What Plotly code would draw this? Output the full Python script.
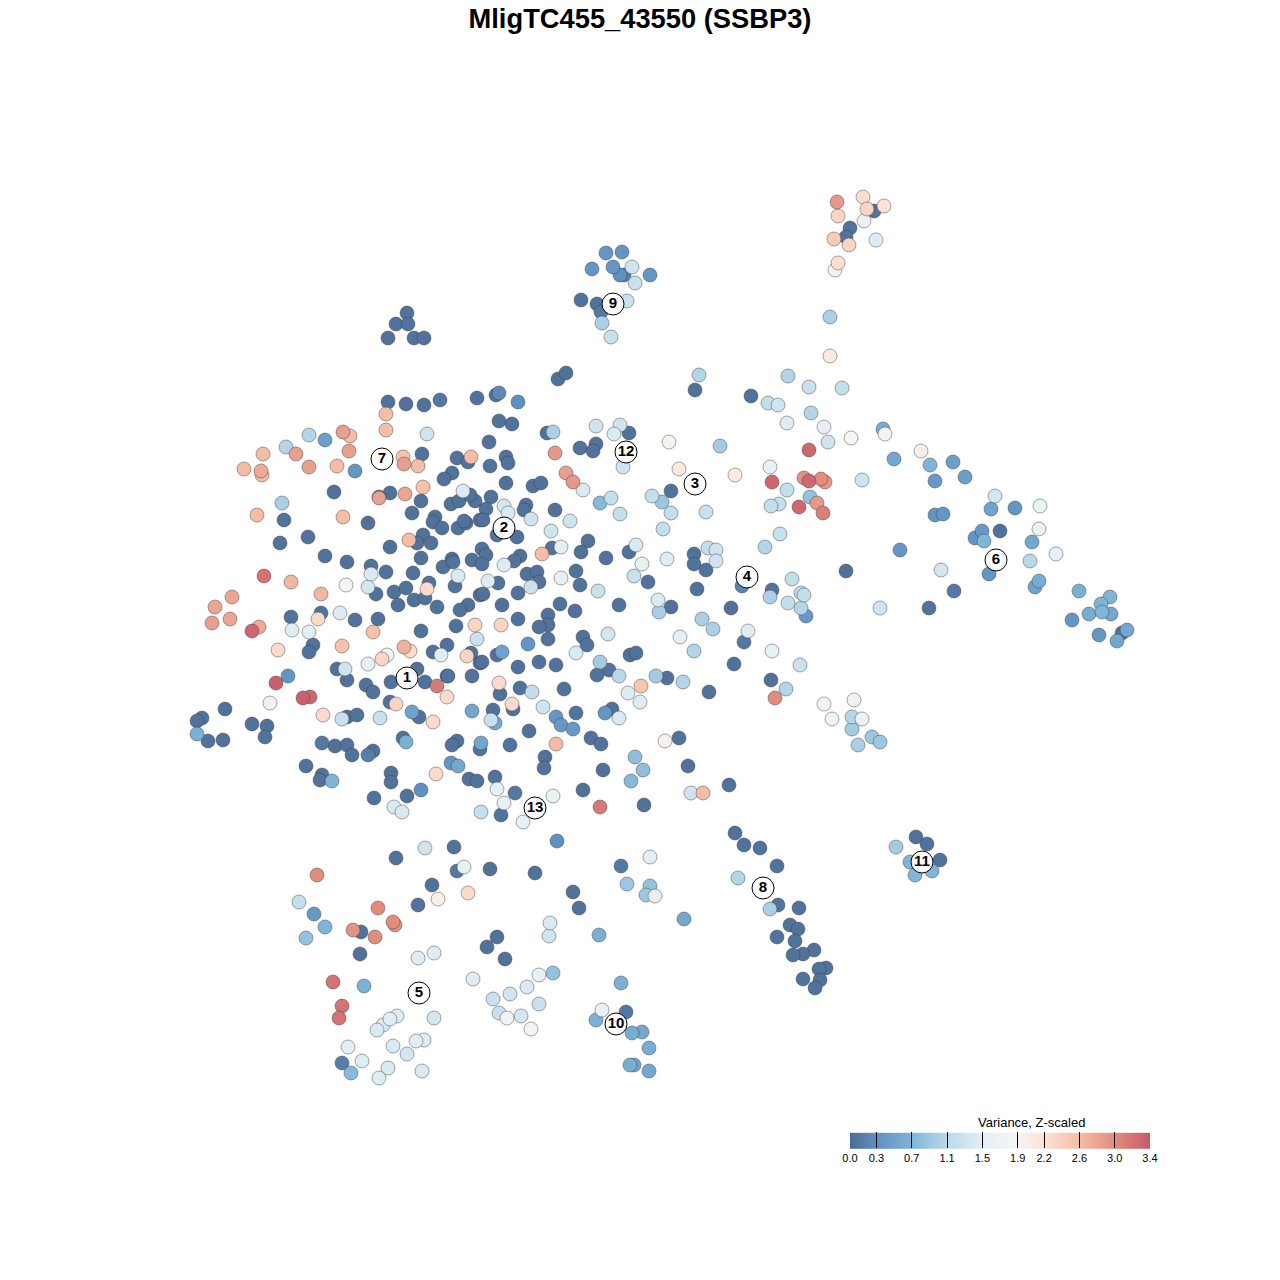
import plotly.graph_objects as go

D = 0.05
# (x, y, variance), region by region
upper_left = [
 (388,402,D),(406,404,D),(424,405,D),(440,400,.1),(477,398,D),(422,454,D),(457,458,D),(468,462,D),(452,473,D),(444,479,D),
 (334,492,D),(390,493,D),(379,497,D),(421,501,D),(451,504,D),(459,501,D),(475,501,D),(470,495,D),(412,513,D),(435,517,D),
 (433,522,D),(442,528,D),(458,528,D),(466,523,D),(464,521,D),(480,520,D),(284,520,D),(368,523,D),(280,543,D),(308,537,D),
 (423,535,D),(417,543,D),(431,543,D),(390,547,D),(325,556,D),(347,562,D),(371,566,D),(386,572,D),(421,558,D),(452,559,D),
 (443,567,D),(472,560,D),(453,562,D),(413,573,D),(429,583,D),(455,586,D),(376,594,D),(394,592,D),(406,588,D),(398,605,D),
 (414,600,D),(425,598,D),(437,607,D),(468,605,D),(460,610,D),(480,595,D),(321,613,D),(291,617,D),(355,620,D),(378,619,D),
 (421,631,D),(456,626,D),(313,645,D),(309,652,D),(447,645,D),(433,652,D),(471,653,D),(337,669,D),(417,669,D),(480,663,D),
 (309,435,1.05),(286,447,1.05),(427,434,1.3),(282,503,1.0),(325,440,.45),(355,471,.35),
 (386,414,2.6),(386,430,2.6),(343,432,2.85),(350,436,2.6),(349,451,2.85),(296,454,2.85),(263,454,2.6),(244,469,2.6),
 (261,471,2.75),(262,475,2.6),(309,467,2.85),(337,466,2.6),(403,457,2.55),(404,464,2.85),(418,466,2.6),(471,457,2.6),
 (379,498,2.85),(405,494,2.8),(423,487,2.55),(257,515,2.6),(343,517,2.6),(409,540,2.6),
 (463,491,1.4),(371,574,1.4),(458,576,1.4),(368,587,1.35),(346,585,1.85),(427,589,2.3),(264,576,3.2),(291,582,2.65),
 (321,594,2.65),(232,597,2.8),(215,607,2.8),(212,623,2.85),(230,619,2.8),(259,627,2.75),(252,631,3.3),(318,619,2.3),
 (340,613,1.45),(292,630,1.45),(309,632,1.5),(373,632,2.55),(278,650,2.3),(342,646,2.55),(404,647,2.7),(410,651,2.3),
 (382,659,2.35),(387,655,1.75),(368,664,1.55),(441,655,1.45),(467,656,2.35),(475,625,2.35),(477,639,1.25),(345,669,1.3),
]
upper_center = [
 (496,395,D),(499,393,.25),(518,402,.3),(558,379,D),(566,373,D),(499,421,D),(512,424,D),(547,433,D),(553,432,1.0),(489,442,D),
 (506,457,D),(508,463,D),(490,466,D),(506,483,D),(533,486,D),(541,483,D),(491,497,D),(486,509,D),(526,505,D),(524,510,D),
 (555,510,D),(483,520,D),(497,535,D),(517,537,D),(588,541,D),(581,552,D),(552,548,D),(561,547,1.5),(542,554,2.6),(606,558,D),
 (629,552,D),(636,545,1.4),(482,549,D),(486,555,D),(482,564,D),(520,556,D),(514,561,D),(504,565,1.45),(527,574,D),(537,572,D),
 (539,582,D),(531,587,1.25),(561,578,1.55),(576,571,D),(580,585,D),(598,591,1.25),(488,581,1.45),(498,583,D),(483,594,D),(518,593,D),
 (502,605,D),(560,604,D),(575,611,D),(619,605,D),(518,619,D),(548,615,D),(548,625,D),(539,627,D),(501,625,2.35),(528,644,.35),
 (548,639,D),(583,637,D),(587,645,D),(608,634,1.35),(576,653,1.4),(630,655,D),(636,653,D),(482,662,D),(497,655,D),(502,652,.5),
 (518,667,D),(539,662,D),(556,665,D),(600,662,.95),(609,670,D),(597,675,D),(619,676,1.1),(656,676,.95),(667,678,D),(683,682,1.05),
 (596,426,1.3),(620,425,1.3),(614,434,1.4),(629,433,D),(580,448,D),(596,444,D),(593,451,D),(555,453,2.9),(566,473,2.85),(573,482,2.9),
 (583,490,1.4),(623,467,1.3),(669,442,1.95),(679,469,2.1),(735,475,2.05),(720,446,.95),(671,491,D),(652,496,1.2),(662,502,.9),
 (671,513,1.2),(706,512,1.25),(663,529,1.2),(600,503,.75),(611,498,1.2),(620,514,1.2),(570,521,1.3),(551,531,1.3),(531,519,1.3),
 (504,506,1.35),(508,513,1.4),(642,564,1.6),(667,559,1.45),(634,576,1.25),(648,582,D),(694,554,D),(694,564,D),(706,570,D),
 (708,548,1.2),(716,550,1.3),(716,561,1.3),(697,589,D),(658,600,1.4),(659,612,1.0),(671,607,D),(731,608,D),(702,619,1.0),
 (713,629,1.0),(680,637,1.5),(694,651,1.05),(734,664,D),(742,586,.2),
]
lower_left = [
 (347,680,D),(366,685,D),(373,692,D),(391,682,D),(425,682,D),(437,686,3.15),(447,676,D),(447,697,2.3),(288,676,.35),(276,683,3.35),
 (310,697,3.3),(303,698,3.35),(270,703,1.7),(323,715,2.3),(347,717,D),(342,719,1.25),(357,715,D),(380,718,1.25),(390,702,D),
 (396,704,2.35),(412,712,.5),(419,717,D),(433,722,2.3),(225,709,D),(202,718,D),(197,721,D),(197,734,.65),(208,741,D),(223,740,D),
 (252,724,D),(267,726,D),(265,737,D),(322,743,.1),(335,746,D),(347,745,D),(352,755,D),(373,751,D),(368,755,.15),(403,738,D),
 (406,742,.65),(306,766,D),(322,775,D),(320,780,D),(332,781,.7),(391,773,D),(391,782,D),(421,790,.3),(407,796,D),(374,798,D),
 (394,807,1.4),(402,812,1.4),(436,774,2.3),
]
lower_center = [
 (472,676,D),(448,676,D),(499,683,2.3),(500,694,D),(520,688,D),(532,692,1.2),(564,689,D),(512,704,2.3),(513,709,D),(543,707,1.3),
 (493,710,D),(472,711,.55),(495,723,.55),(491,720,1.25),(556,717,.35),(576,713,D),(561,725,.4),(573,729,.4),(529,731,D),(510,745,D),
 (556,744,2.6),(591,738,D),(601,744,D),(605,713,.35),(612,709,D),(619,718,1.4),(628,693,1.45),(641,686,2.5),(640,702,1.45),
 (665,741,1.95),(679,738,D),(709,692,.05),(457,741,D),(452,745,D),(480,749,D),(481,743,.55),(451,763,.35),(458,766,.55),
 (469,779,D),(477,781,D),(495,777,D),(497,789,1.55),(515,793,.1),(504,803,1.55),(481,812,1.2),(501,815,.05),(523,822,1.55),
 (553,796,1.6),(545,757,D),(544,768,D),(583,790,D),(603,770,D),(600,807,3.15),(635,757,.8),(643,770,.8),(631,781,.75),(644,805,D),
 (688,766,D),(729,785,D),(691,793,1.3),(703,793,2.6),
]
top_clusters = [
 (407,313,D),(396,324,D),(408,324,D),(388,338,D),(414,338,D),(424,338,D),
 (606,253,.35),(622,252,.35),(592,269,.35),(613,267,.35),(620,275,.3),(624,275,.15),(650,275,.35),(632,267,1.3),(635,283,1.25),
 (627,301,1.25),(581,300,.05),(597,304,.05),(601,312,.1),(602,323,1.0),(611,337,1.25),
 (837,202,2.9),(863,197,2.25),(867,209,2.35),(884,206,2.2),(874,211,.05),(838,216,2.35),(864,221,1.7),(850,228,.05),(846,237,.05),
 (834,239,2.45),(849,245,2.35),(876,240,1.45),(838,263,2.25),(835,270,1.8),(830,317,1.0),(830,356,2.1),
]
right_middle = [
 (699,375,1.05),(695,390,D),(788,376,1.05),(809,387,1.25),(842,388,1.2),(751,396,D),(768,403,1.2),(778,405,1.3),(811,413,1.05),
 (787,423,1.45),(824,427,1.5),(828,442,1.3),(851,438,1.9),(883,429,.6),(885,434,1.85),(809,450,3.3),(894,459,.55),(921,451,2.0),
 (770,467,1.55),(772,482,3.3),(804,478,2.95),(809,481,3.3),(821,479,3.0),(825,482,2.9),(862,480,1.3),(787,490,1.2),(810,497,.85),
 (817,503,2.9),(799,507,3.3),(823,513,3.1),(779,504,1.2),(771,506,1.2),(780,534,1.25),(765,547,1.05),(900,550,.35),(846,571,D),
 (772,590,D),(770,597,1.0),(792,579,1.2),(801,593,1.15),(804,595,1.2),(788,603,1.2),(801,608,1.05),(806,616,.4),(748,631,1.45),
 (744,642,.1),(772,651,1.55),(800,665,1.25),(771,680,D),(786,689,1.05),(775,698,3.0),(824,704,1.9),(854,700,1.7),(832,719,1.7),
 (852,717,1.05),(862,719,1.65),(852,729,.95),(872,737,.9),(880,742,.9),(858,745,1.0),(941,570,1.35),(880,608,1.3),(929,608,D),(954,591,.1),
]
far_right = [
 (930,465,.7),(953,462,.45),(935,481,.4),(965,477,.45),(995,496,1.35),(991,509,.5),(1015,508,.35),(1040,506,1.6),(935,515,.35),
 (943,514,.35),(1039,529,1.6),(982,531,.4),(975,538,.35),(984,541,.7),(1000,531,D),(1032,542,.55),(1056,554,1.55),(1030,561,1.1),
 (989,574,.35),(1039,581,.6),(1035,587,.5),(1079,591,.65),(1110,597,.7),(1101,604,.7),(1089,614,.6),(1102,612,.7),(1111,614,.55),
 (1072,620,.35),(1099,635,.35),(1127,630,.55),(1122,633,.05),(1117,641,.55),
]
bottom_left = [
 (557,841,.3),(425,848,1.3),(454,847,D),(396,858,D),(464,867,1.55),(457,871,.1),(490,869,D),(535,873,D),(317,875,3.0),(432,885,D),
 (438,899,2.0),(468,893,2.3),(299,902,1.2),(418,905,D),(314,914,.4),(378,908,3.0),(393,922,3.0),(395,925,2.95),(353,930,2.95),
 (361,932,D),(375,937,3.0),(325,927,.7),(306,938,.85),(360,954,D),(434,953,1.45),(418,958,1.45),(497,937,D),(487,947,D),(505,959,D),
 (550,923,1.4),(549,936,1.3),(573,892,.05),(579,908,.05),(553,973,.85),(539,975,1.55),(527,987,1.4),(473,979,1.45),(510,994,1.3),
 (493,999,1.25),(539,1004,1.25),(499,1013,1.25),(507,1018,1.75),(521,1016,1.35),(531,1029,1.8),(333,982,3.2),(364,986,.65),
 (342,1006,3.2),(339,1018,3.2),(397,1016,1.45),(390,1019,1.45),(383,1025,1.4),(377,1030,1.4),(434,1018,1.35),(424,1040,1.45),
 (416,1041,1.45),(393,1046,1.4),(407,1054,1.35),(348,1047,1.5),(362,1061,1.45),(342,1063,.15),(351,1073,.75),(388,1068,1.4),
 (422,1071,1.4),(379,1078,1.45),
]
bottom_right = [
 (621,866,.1),(650,857,1.5),(627,884,.9),(650,886,.85),(646,895,.9),(655,896,1.55),(684,919,.55),(599,935,.65),(621,983,.65),
 (602,1010,1.55),(626,1012,.1),(596,1020,.65),(632,1033,.6),(642,1032,.55),(649,1048,.6),(630,1065,.6),(634,1065,.5),(649,1071,.55),
 (735,833,D),(744,845,D),(760,848,D),(777,866,D),(738,878,1.05),(778,905,D),(799,908,D),(770,909,1.0),(790,925,D),(798,929,D),
 (777,937,D),(795,941,D),(814,950,D),(803,954,D),(793,955,D),(826,968,D),(819,969,D),(803,979,D),(820,980,D),(815,988,D),
 (896,847,.95),(916,837,D),(927,844,D),(940,860,D),(910,862,.7),(932,871,.7),(915,875,.7),
]
regions = [upper_left, upper_center, lower_left, lower_center, top_clusters,
           right_middle, far_right, bottom_left, bottom_right]

cluster_ids = ["1","2","3","4","5","6","7","8","9","10","11","12","13"]
cluster_x = [407,504,695,747,419,996,382,763,613,616,922,626,535]
cluster_y = [678,528,484,577,993,560,459,888,304,1024,862,452,808]

legend_ticks = [0.0,0.3,0.7,1.1,1.5,1.9,2.2,2.6,3.0,3.4]
legend_labels = ["0.0","0.3","0.7","1.1","1.5","1.9","2.2","2.6","3.0","3.4"]
legend_colors = ["#4d6c93","#5f90c2","#7fb5d8","#b9d9e9","#e4eff5","#f7f5f3","#fce3d6","#f5bda5","#e08d7e","#c85a6a"]
VMAX = 3.4

FIG = 1280
def fx(px):
    return px / FIG
def fy(py):
    return 1 - py / FIG

points = sorted((p for r in regions for p in r), key=lambda p: p[2])
xs = [p[0] for p in points]
ys = [p[1] for p in points]
vs = [p[2] for p in points]

fig = go.Figure()
fig.add_trace(go.Scatter(
    x=xs, y=ys, mode="markers", hoverinfo="skip", showlegend=False,
    marker=dict(
        size=14, color=vs, cmin=0, cmax=VMAX,
        colorscale=[[t / VMAX, c] for t, c in zip(legend_ticks, legend_colors)],
        line=dict(width=1, color="rgba(60,60,60,0.45)"),
        colorbar=dict(
            orientation="h", lenmode="pixels", len=300, thicknessmode="pixels", thickness=16,
            x=fx(850), xanchor="left", y=fy(1181), yanchor="bottom", xpad=0, ypad=0,
            outlinewidth=0, tickmode="array", tickvals=legend_ticks, ticktext=legend_labels,
            ticks="inside", ticklen=16, tickwidth=1, tickcolor="black",
            tickfont=dict(family="Liberation Sans", size=11, color="black"),
        ),
    ),
))
fig.add_trace(go.Scatter(
    x=cluster_x, y=cluster_y, text=cluster_ids, mode="markers+text", hoverinfo="skip", showlegend=False,
    marker=dict(size=22, color="rgba(255,255,255,0.92)", line=dict(width=1, color="black")),
    textposition="middle center",
    textfont=dict(family="Liberation Sans", size=15, color="black", weight="bold"),
))
fig.update_layout(
    width=FIG, height=FIG, margin=dict(l=0, r=0, t=0, b=0),
    paper_bgcolor="white", plot_bgcolor="white",
    xaxis=dict(range=[0, FIG], visible=False, fixedrange=True, domain=[0, 1]),
    yaxis=dict(range=[FIG, 0], visible=False, fixedrange=True, domain=[0, 1]),
    title=dict(text="MligTC455_43550 (SSBP3)", x=fx(640), xanchor="center", y=fy(18), yanchor="middle",
               font=dict(family="Liberation Sans", size=27.3, color="black", weight="bold")),
    annotations=[dict(text="Variance, Z-scaled", xref="paper", yref="paper", x=fx(1031), y=fy(1122),
                      xanchor="center", yanchor="middle", showarrow=False,
                      font=dict(family="Liberation Sans", size=13, color="black"))],
)
# the figure fills the whole window, so the page's default body margin is removed
fig.write_html("out.html", config=dict(displayModeBar=False),
               post_script="document.body.style.margin='0';document.documentElement.style.overflow='hidden';")
